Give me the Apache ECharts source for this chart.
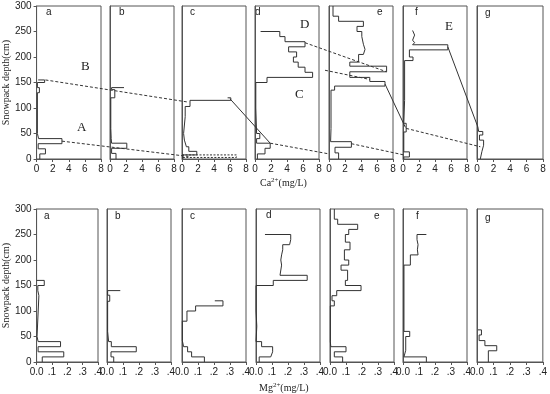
<!DOCTYPE html>
<html><head><meta charset="utf-8">
<script src="https://cdn.jsdelivr.net/npm/echarts/dist/echarts.min.js"></script>
<style>html,body{margin:0;padding:0;background:#fff}#c{width:550px;height:394px}</style>
</head><body><div id="c"></div>
<script>
// ---------- DATA ----------
const panelNames = ['a','b','c','d','e','f','g'];
const caTicks = [0,2,4,6,8];
const mgTicks = [0,0.1,0.2,0.3,0.4];
const depthTicks = [0,50,100,150,200,250,300];

// Layers from top to bottom: [topDepth, bottomDepth, value]
const caA = [[155,155,0.2],[155,150,1.0],[150,140,0.1],[140,130,0.35],[130,50,0.1],[50,40,0.25],[40,30,3.15],[30,20,0.2],[20,10,1.1],[10,0,0.4]];
const caB = [[140,140,1.75],[140,136,0.2],[136,120,0.6],[120,60,0.1],[60,40,0.15],[40,31,0.2],[31,21,2.1],[21,11,0.2],[11,0,0.75]];
const caC = [[120,120,5.7],[120,115,6.1],[115,103,1.0],[103,83,0.4],[83,50,0.2],[50,37,0.3],[37,24,0.55],[24,15,0.85],[15,8,1.85],[8,0,0.1]];
const caCbox = [[8,8,0],[8,3,6.8],[3,3,0]];
const caD = [[250,250,0.7],[250,240,3.1],[240,230,3.75],[230,220,6.25],[220,210,4.2],[210,200,5.2],[200,190,4.8],[190,180,5.4],[180,170,6.25],[170,160,7.2],[160,150,1.5],[150,100,0.1],[100,50,0.2],[50,40,0.6],[40,31,0.2],[31,21,1.9],[21,10,1.25],[10,0,0.3]];
const caE = [[300,280,0.5],[280,270,1.2],[270,260,4.3],[260,250,3.5],[250,240,4.1],[240,225,4.3],[225,215,4.5],[215,205,4.3],[205,190,3.7],[190,182,2.6],[182,171,7.2],[171,160,2.6],[160,152,5.1],[152,143,7.0],[143,135,0.7],[135,60,0.25],[60,34,0.2],[34,23,2.8],[23,12,0.75],[12,0,1.2]];
const caF = [[252,252,1.2],[252,243,1.45],[243,233,1.2],[233,228,1.45],[228,224,1.2],[224,214,5.6],[214,200,0.8],[200,193,1.25],[193,115,0.2],[115,70,0.1],[70,53,0.4],[53,14,0.1],[14,4,0.8],[4,0,0.1]];
const caG = [[63,63,0.1],[63,54,0.2],[54,47,0.7],[47,37,0.3],[37,27,0.8],[27,15,0.6],[15,0,0.4]];

const mgA = [[160,160,0.0],[160,150,0.05],[150,140,0.008],[140,130,0.015],[130,50,0.003],[50,40,0.01],[40,30,0.156],[30,20,0.01],[20,10,0.177],[10,0,0.037]];
const mgB = [[140,140,0.083],[140,131,0.004],[131,119,0.017],[119,60,0.004],[60,40,0.01],[40,30,0.027],[30,20,0.183],[20,10,0.025],[10,0,0.042]];
const mgC = [[120,120,0.205],[120,110,0.256],[110,100,0.085],[100,80,0.031],[80,42,0.002],[42,30,0.01],[30,20,0.035],[20,10,0.06],[10,0,0.14]];
const mgD = [[250,250,0.056],[250,240,0.217],[240,230,0.21],[230,220,0.167],[220,210,0.16],[210,200,0.155],[200,190,0.16],[190,170,0.15],[170,160,0.32],[160,150,0.108],[150,100,0.0],[100,70,0.005],[70,40,0.0],[40,30,0.035],[30,20,0.104],[20,10,0.092],[10,0,0.02]];
const mgE = [[300,280,0.027],[280,270,0.048],[270,260,0.173],[260,250,0.117],[250,235,0.096],[235,220,0.125],[220,200,0.09],[200,190,0.117],[190,180,0.069],[180,160,0.11],[160,150,0.096],[150,140,0.194],[140,130,0.042],[130,120,0.0125],[120,110,0.027],[110,40,0.002],[40,30,0.005],[30,20,0.1],[20,10,0.027],[10,0,0.079]];
const mgF = [[250,250,0.146],[250,240,0.0875],[240,230,0.094],[230,220,0.09],[220,210,0.094],[210,190,0.046],[190,60,0.006],[60,50,0.042],[50,23,0.017],[23,10,0.006],[10,0,0.146]];
const mgG = [[63,63,0.006],[63,53,0.027],[53,42,0.013],[42,32,0.048],[32,22,0.12],[22,0,0.069]];

// Connecting lines between Ca panels: [panel, value, depth, panel, value, depth, dashed]
const caLinks = [
  [0,3.15,35, 2,0.8,5, true],
  [0,1.1,155, 2,0.6,112, true],
  [2,6.0,118, 3,1.9,31, false],
  [3,1.9,31, 4,0.0,10, true],
  [3,6.25,228, 4,7.2,171, true],
  [4,-0.5,174, 4,5.1,156, true],
  [4,7.0,147, 5,0.3,62, false],
  [4,2.8,30, 5,0.1,8, true],
  [5,5.6,220, 6,0.1,63, false],
  [5,0.4,60, 6,0.4,24, true]
];
const bigLetters = ['A','B','C','D','E'];

// ---------- LAYOUT ----------
const topLefts = [36,110,182,255,329,403,477];
const botLefts = [33,107,182,256,330,403,477];
const widths = [65,64,64,64,64,64,66];
const topTop = 6, botTop = 209, gridH = 153;
const topLetterPos = [[49,13],[122,13],[193,13],[258,13],[380,13],[418,13],[488,14]];
const botLetterPos = [[47,217],[118,217],[193,217],[269,216],[377,217],[419,217],[488,219]];
const bigLetterPos = [[82,128],[86,67],[300,95],[305,25],[450,27]];

const caProfiles = [caA,caB,caC,caD,caE,caF,caG];
const mgProfiles = [mgA,mgB,mgC,mgD,mgE,mgF,mgG];

function pts(layers){const o=[];layers.forEach(([t,b,v])=>{o.push([v,t]);o.push([v,b]);});return o;}

const FRAME='#555', INK='#333', TXT='#222';
const grids=[], xAxes=[], yAxes=[], series=[];
for(let r=0;r<2;r++){
  for(let i=0;i<7;i++){
    const idx=r*7+i;
    grids.push({left:(r?botLefts:topLefts)[i], top:r?botTop:topTop, width:widths[i], height:gridH,
      show:true, borderColor:FRAME, borderWidth:1, containLabel:false});
    const ticks = r?mgTicks:caTicks;
    xAxes.push({gridIndex:idx,type:'value',min:ticks[0],max:ticks[ticks.length-1],interval:ticks[1]-ticks[0],
      axisLine:{show:true,lineStyle:{color:FRAME,width:1}},
      axisTick:{show:true,length:3,lineStyle:{color:FRAME}},
      splitLine:{show:false},
      axisLabel:{fontSize:10,color:TXT,margin:5,fontFamily:'Liberation Sans, Arial',
        formatter: r ? (v=>v===0?'0.0':'.'+Math.round(v*10)) : (v=>String(v))}});
    const first = i===0;
    yAxes.push({gridIndex:idx,type:'value',min:depthTicks[0],max:depthTicks[depthTicks.length-1],interval:depthTicks[1]-depthTicks[0],
      axisLine:{show:true,lineStyle:{color:FRAME,width:1}},
      axisTick:{show:first,length:3,lineStyle:{color:FRAME}},
      splitLine:{show:false},
      axisLabel:{show:first,fontSize:10,color:TXT,margin:5,fontFamily:'Liberation Sans, Arial'},
      name:first?'Snowpack depth(cm)':'',nameLocation:'middle',nameGap:r?20:23,
      nameTextStyle:{fontSize:10,color:TXT,fontFamily:'Liberation Serif, Times New Roman, serif'}});
    const prof = (r?mgProfiles:caProfiles)[i];
    series.push({type:'line',xAxisIndex:idx,yAxisIndex:idx,data:pts(prof),symbol:'none',
      lineStyle:{color:INK,width:1},silent:true,animation:false});
  }
}
series.push({type:'line',xAxisIndex:2,yAxisIndex:2,data:pts(caCbox),symbol:'none',
  lineStyle:{color:INK,width:1,type:[2,1.5]},silent:true,animation:false});

const graphic=[];
panelNames.forEach((n,i)=>{
  graphic.push({type:'text',left:topLetterPos[i][0]-3,top:topLetterPos[i][1]-6,style:{text:n,fontSize:10,fill:TXT,fontFamily:'Liberation Sans, Arial'}});
  graphic.push({type:'text',left:botLetterPos[i][0]-3,top:botLetterPos[i][1]-6,style:{text:n,fontSize:10,fill:TXT,fontFamily:'Liberation Sans, Arial'}});
});
bigLetters.forEach((L,i)=>{
  graphic.push({type:'text',left:bigLetterPos[i][0]-5,top:bigLetterPos[i][1]-7,style:{text:L,fontSize:13,fill:TXT,fontFamily:'Liberation Serif, Times New Roman, serif'}});
});
const rich={s:{fontSize:7,verticalAlign:'top',fill:TXT,fontFamily:'Liberation Serif, serif',padding:[0,0,6,0]},n:{fontSize:10,fill:TXT,fontFamily:'Liberation Serif, serif'}};
graphic.push({type:'text',left:260,top:177,style:{rich,text:'{n|Ca}{s|2+}{n|(mg/L)}'}});
graphic.push({type:'text',left:259,top:382,style:{rich,text:'{n|Mg}{s|2+}{n|(mg/L)}'}});

const chart=echarts.init(document.getElementById('c'),null,{renderer:'canvas'});
chart.setOption({animation:false,grid:grids,xAxis:xAxes,yAxis:yAxes,series,graphic});

// dashed/solid connecting lines through the axes' own scales
const links=caLinks.map(([p1,v1,d1,p2,v2,d2,dash])=>{
  const a=chart.convertToPixel({gridIndex:p1},[v1,d1]);
  const b=chart.convertToPixel({gridIndex:p2},[v2,d2]);
  return {type:'line',shape:{x1:a[0],y1:a[1],x2:b[0],y2:b[1]},silent:true,z:10,
    style:{stroke:INK,lineWidth:1,lineDash:dash?[3,2]:null}};
});
chart.setOption({graphic:graphic.concat(links)});
</script></body></html>
